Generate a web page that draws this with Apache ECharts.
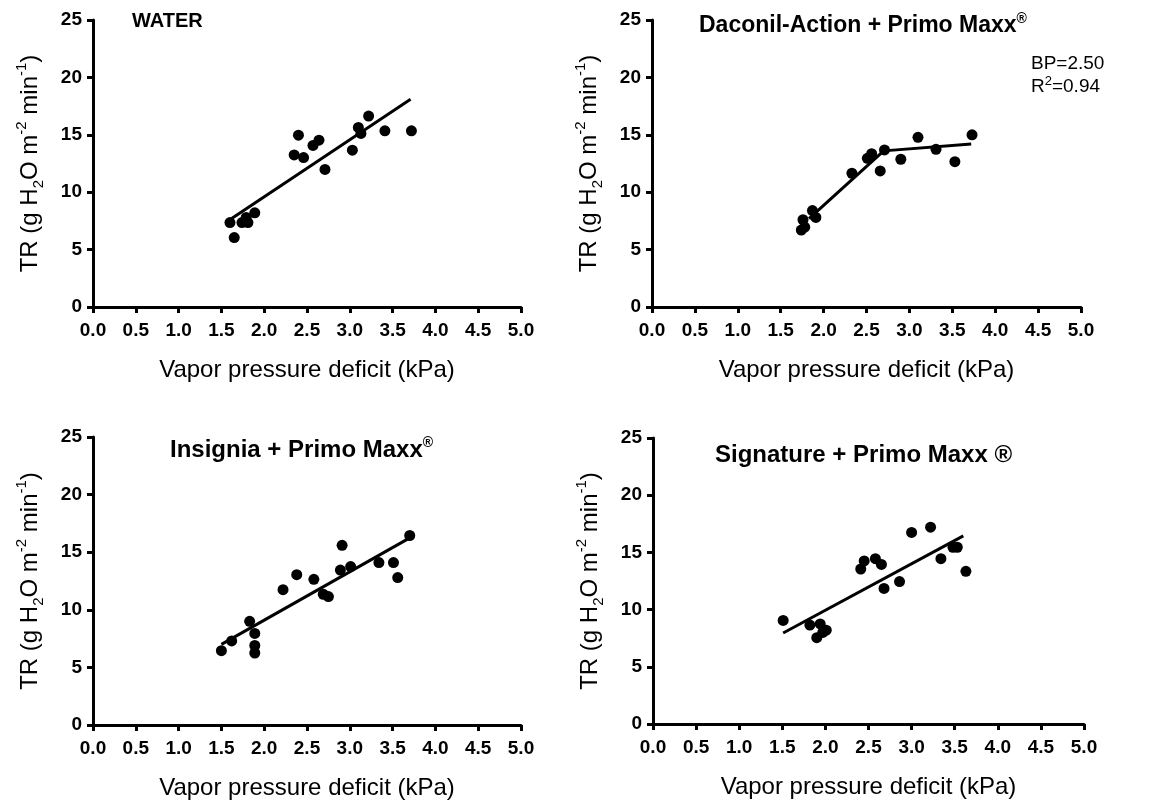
<!DOCTYPE html>
<html>
<head>
<meta charset="utf-8">
<script src="https://cdn.jsdelivr.net/npm/echarts@6/dist/echarts.min.js"></script>
<style>
html,body{margin:0;padding:0;background:#fff;}
#chart{width:1150px;height:804px;}
</style>
</head>
<body>
<div id="chart"></div>
<script>
// ---- data ----
const xTickLabels = ['0.0','0.5','1.0','1.5','2.0','2.5','3.0','3.5','4.0','4.5','5.0'];
const yTickLabels = ['0','5','10','15','20','25'];

const waterVpd = [1.60,1.65,1.74,1.81,1.79,1.89,2.35,2.40,2.46,2.57,2.64,2.71,3.03,3.10,3.13,3.22,3.41,3.72];
const waterTr  = [7.35,6.05,7.35,7.35,7.80,8.20,13.25,14.97,13.02,14.07,14.53,11.98,13.66,15.64,15.12,16.63,15.35,15.35];
const waterFitVpd = [1.62,3.71];
const waterFitTr  = [7.70,18.10];

const dacVpd = [1.74,1.78,1.76,1.87,1.91,2.33,2.51,2.56,2.66,2.71,2.90,3.10,3.31,3.53,3.73];
const dacTr  = [6.70,6.95,7.60,8.40,7.80,11.65,12.95,13.35,11.85,13.68,12.87,14.78,13.74,12.66,15.00];
const dacFitVpd = [1.83,2.70,3.72];
const dacFitTr  = [7.70,13.60,14.20];

const insVpd = [1.50,1.62,1.83,1.89,1.89,1.89,2.22,2.38,2.58,2.69,2.75,2.89,2.91,3.01,3.34,3.51,3.56,3.70];
const insTr  = [6.45,7.30,9.00,7.95,6.90,6.25,11.75,13.05,12.65,11.35,11.15,13.45,15.60,13.75,14.10,14.10,12.80,16.45];
const insFitVpd = [1.50,3.69];
const insFitTr  = [7.00,16.20];

const sigVpd = [1.51,1.82,1.90,1.94,1.97,2.01,2.41,2.45,2.58,2.65,2.68,2.86,3.00,3.22,3.34,3.48,3.53,3.63];
const sigTr  = [9.05,8.65,7.55,8.75,8.00,8.20,13.55,14.25,14.45,13.95,11.85,12.45,16.75,17.20,14.45,15.45,15.45,13.35];
const sigFitVpd = [1.51,3.60];
const sigFitTr  = [7.95,16.45];

const panelTitles = ['WATER','Daconil-Action + Primo Maxx{sup|®}','Insignia + Primo Maxx{sup|®}','Signature + Primo Maxx ®'];
const xAxisName = 'Vapor pressure deficit (kPa)';
const yAxisName = 'TR (g H{sub|2}O m{sup|-2} min{sup|-1})';
const bpText = 'BP=2.50';
const r2Text = 'R{sup|2}=0.94';

// ---- chart ----
const FONT = "'Liberation Sans', Arial, Helvetica, sans-serif";
const zip = (a, b) => a.map((v, i) => [v, b[i]]);

const grids = [
  {left: 93, top: 20, width: 428, height: 287},
  {left: 652, top: 20, width: 429, height: 287},
  {left: 93, top: 437, width: 428, height: 288},
  {left: 653, top: 438, width: 431, height: 286}
];

const panels = [
  {pts: zip(waterVpd, waterTr), fit: zip(waterFitVpd, waterFitTr)},
  {pts: zip(dacVpd, dacTr), fit: zip(dacFitVpd, dacFitTr)},
  {pts: zip(insVpd, insTr), fit: zip(insFitVpd, insFitTr)},
  {pts: zip(sigVpd, sigTr), fit: zip(sigFitVpd, sigFitTr)}
];

const axisLine = {show: true, onZero: false, lineStyle: {color: '#000', width: 3}};
const axisTick = {show: true, length: 6, lineStyle: {color: '#000', width: 3}};

const xAxes = grids.map((g, i) => ({
  gridIndex: i, type: 'value', min: 0, max: 5, interval: 0.5,
  axisLine, axisTick, splitLine: {show: false},
  axisLabel: {color: '#000', fontSize: 19, fontWeight: 'bold', fontFamily: FONT, margin: 14,
    formatter: v => xTickLabels[Math.round(v / 0.5)]},
  name: xAxisName, nameLocation: 'middle', nameGap: 51,
  nameTextStyle: {color: '#000', fontSize: 24, fontFamily: FONT}
}));

const supSub = {
  sub: {fontSize: 15, fontFamily: FONT, color: '#000', verticalAlign: 'bottom'},
  sup: {fontSize: 15, fontFamily: FONT, color: '#000', verticalAlign: 'top'}
};

const yAxes = grids.map((g, i) => ({
  gridIndex: i, type: 'value', min: 0, max: 25, interval: 5,
  axisLine, axisTick, splitLine: {show: false},
  axisLabel: {color: '#000', fontSize: 19, fontWeight: 'bold', fontFamily: FONT, margin: 11,
    formatter: v => yTickLabels[Math.round(v / 5)]},
  name: yAxisName, nameLocation: 'middle', nameGap: 47,
  nameTextStyle: {color: '#000', fontSize: 24, fontFamily: FONT, lineHeight: 32, rich: supSub}
}));

const series = [];
panels.forEach((p, i) => {
  series.push({
    type: 'line', xAxisIndex: i, yAxisIndex: i, data: p.fit,
    symbol: 'none', lineStyle: {color: '#000', width: 3, opacity: 1}, z: 2, animation: false
  });
  series.push({
    type: 'scatter', xAxisIndex: i, yAxisIndex: i, data: p.pts,
    symbol: 'circle', symbolSize: 11, itemStyle: {color: '#000', opacity: 1}, z: 3, animation: false
  });
});

const titleRich = () => ({sup: {fontSize: 14, fontWeight: 'bold', fontFamily: FONT, color: '#000', verticalAlign: 'top'}});
const titles = [
  {text: panelTitles[0], left: 132, top: 11, padding: 0,
    textStyle: {fontSize: 20, fontWeight: 'bold', fontFamily: FONT, color: '#000'}},
  {text: panelTitles[1], left: 699, top: 12, padding: 0,
    textStyle: {fontSize: 23, fontWeight: 'bold', fontFamily: FONT, color: '#000', lineHeight: 28, rich: titleRich()}},
  {text: panelTitles[2], left: 170, top: 436, padding: 0,
    textStyle: {fontSize: 24, fontWeight: 'bold', fontFamily: FONT, color: '#000', lineHeight: 28, rich: titleRich()}},
  {text: panelTitles[3], left: 715, top: 441, padding: 0,
    textStyle: {fontSize: 24, fontWeight: 'bold', fontFamily: FONT, color: '#000', lineHeight: 28}},
  {text: bpText, left: 1031, top: 54, padding: 0,
    textStyle: {fontSize: 19, fontWeight: 'normal', fontFamily: FONT, color: '#000'}},
  {text: r2Text, left: 1031, top: 75, padding: 0,
    textStyle: {fontSize: 19, fontWeight: 'normal', fontFamily: FONT, color: '#000', lineHeight: 23,
      rich: {sup: {fontSize: 13, fontFamily: FONT, color: '#000', verticalAlign: 'top'}}}}
];

const chart = echarts.init(document.getElementById('chart'), null, {renderer: 'canvas'});
chart.setOption({
  animation: false,
  backgroundColor: '#fff',
  title: titles,
  grid: grids,
  xAxis: xAxes,
  yAxis: yAxes,
  series
});
</script>
</body>
</html>
